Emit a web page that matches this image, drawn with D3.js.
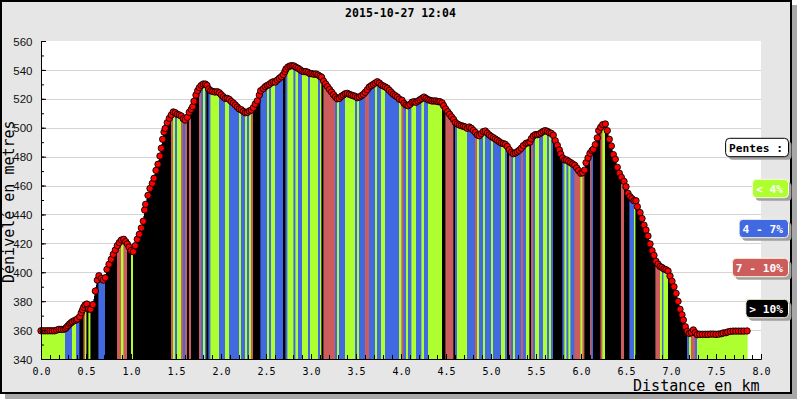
<!DOCTYPE html>
<html><head><meta charset="utf-8">
<script src="https://cdn.jsdelivr.net/npm/d3@7"></script>
<style>
html,body{margin:0;padding:0;background:#fff;}
svg{display:block;}
</style></head>
<body>
<svg id="c" width="800" height="400"></svg>
<script>
const titleText = "2015-10-27 12:04";
const yTitle = "Dénivelé en metres";
const xTitle = "Distance en km";
const legendTitle = "Pentes :";
const legendLabels = ["< 4%", "4 - 7%", "7 - 10%", "> 10%"];
const legendColors = ["#adff2f", "#4169e1", "#cd5c5c", "#000000"];
const legendTextColors = ["#ffffff", "#ffffff", "#ffffff", "#ffffff"];
const slopeLimits = [4, 7, 10];
const xTicks = [0, 0.5, 1, 1.5, 2, 2.5, 3, 3.5, 4, 4.5, 5, 5.5, 6, 6.5, 7, 7.5, 8];
const yTicks = [340, 360, 380, 400, 420, 440, 460, 480, 500, 520, 540, 560];

const distKm = [
0.000,0.025,0.050,0.075,0.100,0.125,0.150,0.175,0.200,0.225,0.250,0.270,0.285,0.300,0.318,0.333,0.348,0.370,0.390,0.404,
0.430,0.448,0.462,0.474,0.490,0.510,0.530,0.552,0.578,0.604,0.626,0.644,0.670,0.692,0.715,0.733,0.756,0.781,0.803,0.826,
0.848,0.870,0.893,0.919,0.941,0.959,0.978,1.000,1.026,1.048,1.070,1.093,1.115,1.137,1.152,1.163,1.189,1.211,1.237,1.256,
1.278,1.300,1.322,1.337,1.352,1.367,1.380,1.403,1.426,1.448,1.470,1.492,1.514,1.537,1.559,1.581,1.603,1.626,1.648,1.670,
1.686,1.700,1.722,1.741,1.759,1.781,1.803,1.826,1.844,1.863,1.886,1.908,1.933,1.959,1.981,2.003,2.026,2.048,2.070,2.092,
2.114,2.137,2.159,2.181,2.203,2.226,2.248,2.270,2.292,2.314,2.337,2.359,2.381,2.403,2.426,2.441,2.470,2.492,2.514,2.537,
2.559,2.581,2.603,2.626,2.648,2.670,2.692,2.710,2.722,2.744,2.767,2.789,2.811,2.833,2.856,2.878,2.900,2.922,2.944,2.967,
2.989,3.011,3.033,3.056,3.078,3.100,3.118,3.140,3.162,3.184,3.206,3.228,3.250,3.272,3.292,3.314,3.337,3.359,3.381,3.403,
3.426,3.448,3.470,3.492,3.514,3.537,3.559,3.581,3.603,3.626,3.648,3.670,3.692,3.714,3.737,3.759,3.781,3.803,3.826,3.848,
3.870,3.892,3.914,3.937,3.959,3.981,4.011,4.033,4.056,4.078,4.100,4.122,4.144,4.167,4.189,4.211,4.233,4.256,4.278,4.300,
4.322,4.344,4.367,4.389,4.411,4.433,4.456,4.474,4.496,4.518,4.540,4.562,4.584,4.604,4.626,4.648,4.670,4.692,4.714,4.737,
4.759,4.781,4.803,4.826,4.848,4.870,4.892,4.914,4.937,4.959,4.981,5.003,5.026,5.048,5.070,5.092,5.114,5.137,5.159,5.181,
5.203,5.226,5.248,5.270,5.292,5.314,5.337,5.359,5.389,5.411,5.433,5.448,5.470,5.492,5.514,5.537,5.559,5.581,5.603,5.626,
5.648,5.670,5.692,5.714,5.737,5.759,5.774,5.797,5.819,5.841,5.863,5.886,5.908,5.930,5.952,5.974,5.997,6.019,6.041,6.056,
6.078,6.100,6.122,6.137,6.159,6.181,6.197,6.219,6.241,6.270,6.292,6.314,6.337,6.359,6.381,6.403,6.426,6.448,6.478,6.500,
6.522,6.544,6.567,6.589,6.611,6.626,6.656,6.678,6.700,6.722,6.744,6.767,6.789,6.811,6.833,6.856,6.878,6.900,6.922,6.944,
6.967,6.989,7.011,7.033,7.056,7.078,7.100,7.122,7.137,7.159,7.181,7.203,7.226,7.248,7.270,7.292,7.320,7.350,7.380,7.410,
7.440,7.470,7.500,7.530,7.560,7.580,7.610,7.630,7.660,7.690,7.720,7.750,7.780,7.810,7.845
];
const elevM = [
359.5,359.5,359.5,359.5,359.5,359.5,359.5,360.0,360.5,360.5,360.5,361.0,362.0,363.0,364.2,365.0,365.8,366.5,367.0,367.7,
369.3,372.0,374.0,375.8,377.4,378.0,374.6,374.4,377.6,387.0,394.6,397.6,395.8,394.6,396.2,402.0,405.5,409.0,412.4,415.4,
418.4,420.5,422.3,422.8,421.2,419.6,417.5,415.0,414.2,418.4,422.8,426.3,430.6,435.3,443.1,447.0,453.2,458.0,461.5,465.0,
470.5,474.7,480.4,485.8,492.0,497.0,499.5,503.5,506.5,508.8,510.9,510.4,509.3,508.8,508.1,506.2,505.3,507.2,510.7,512.7,
514.6,518.3,522.6,525.6,527.7,529.3,530.2,530.2,529.3,526.8,525.6,525.1,524.7,524.9,524.2,522.8,521.4,520.3,520.3,519.6,
518.2,517.1,515.7,514.3,513.0,512.4,511.3,510.4,510.6,511.6,512.2,513.8,516.4,518.6,522.6,525.6,527.0,528.4,529.3,530.0,
531.1,531.8,531.6,533.0,534.2,535.3,536.7,538.8,540.6,542.0,542.7,542.9,542.7,541.8,541.1,540.2,539.2,538.8,538.8,538.3,
537.4,537.4,537.0,537.2,536.5,535.6,534.9,532.2,530.3,528.4,526.5,524.7,522.9,521.2,520.0,520.3,521.7,522.6,523.5,523.8,
523.1,522.6,522.1,521.7,520.8,521.2,522.1,523.1,524.5,526.3,528.2,529.1,530.0,530.9,531.8,530.9,529.6,528.9,528.2,527.3,
525.9,524.5,523.1,522.1,521.2,519.8,519.0,516.9,515.7,515.2,516.2,517.6,518.0,517.6,518.5,519.4,520.3,521.2,520.3,519.4,
519.0,518.5,518.5,518.5,518.0,518.0,517.2,515.2,513.0,511.1,509.3,507.5,505.7,503.6,502.6,501.9,501.4,501.0,500.5,499.6,
500.5,499.6,498.2,496.8,495.0,494.5,495.9,497.3,497.7,496.3,495.0,494.0,493.1,492.2,491.3,490.3,489.4,489.0,488.5,487.1,
484.8,483.0,482.0,482.5,483.4,484.4,485.8,487.6,489.2,489.6,490.1,492.4,494.3,495.2,495.2,495.7,496.6,497.5,498.0,497.5,
496.6,496.1,494.8,491.0,487.8,484.6,481.8,479.1,477.7,477.7,476.7,475.8,474.9,474.0,472.2,470.3,468.5,468.9,470.7,475.8,
479.1,482.3,484.2,485.1,488.3,493.0,498.0,500.3,502.1,502.6,498.0,492.0,487.4,481.4,478.2,472.6,468.5,465.7,462.9,459.2,
454.6,452.3,450.9,449.5,449.5,445.4,441.3,437.2,432.6,429.2,425.1,419.6,414.9,411.7,407.6,405.6,404.0,403.3,402.3,401.8,
400.9,397.4,393.8,390.0,385.4,379.9,374.4,370.6,367.0,362.3,359.1,357.7,358.2,360.1,358.2,356.8,357.0,357.0,357.0,357.0,
357.2,357.2,357.0,357.2,357.5,358.0,358.2,358.7,359.1,359.3,359.3,359.3,359.3,359.3,359.4
];

const svg = d3.select("#c");
const plot = {l: 41, r: 761, t: 41, b: 359};
const x = d3.scaleLinear().domain([0, 8]).range([plot.l, plot.r]);
const y = d3.scaleLinear().domain([340, 560]).range([plot.b, plot.t]);
const mono = "'DejaVu Sans Mono', monospace";

// frame + shadow
svg.append("rect").attr("x", 5).attr("y", 5).attr("width", 792).attr("height", 394).attr("fill", "#a8a8a8");
svg.append("rect").attr("x", 1).attr("y", 1).attr("width", 790).attr("height", 392)
  .attr("fill", "#e6e6e6").attr("stroke", "#000").attr("stroke-width", 2);

// plot bg
svg.append("rect").attr("x", plot.l).attr("y", plot.t).attr("width", plot.r - plot.l).attr("height", plot.b - plot.t).attr("fill", "#fff");

// grid
svg.append("g").selectAll("line").data(yTicks.filter(v => v > 340 && v < 560)).join("line")
  .attr("x1", plot.l).attr("x2", plot.r).attr("y1", d => Math.round(y(d)) + 0.5).attr("y2", d => Math.round(y(d)) + 0.5)
  .attr("stroke", "#d4d4d4").attr("stroke-width", 1);

// slope classes computed from the profile
const pts = distKm.map((d, i) => ({d, e: elevM[i]}));
function slopeClass(a, b) {
  const s = Math.abs(b.e - a.e) / ((b.d - a.d) * 1000) * 100;
  if (s < slopeLimits[0]) return 0;
  if (s < slopeLimits[1]) return 1;
  if (s < slopeLimits[2]) return 2;
  return 3;
}
const segs = d3.pairs(pts).map(([a, b]) => ({a, b, c: slopeClass(a, b)}));
svg.append("g").attr("shape-rendering", "crispEdges").selectAll("path").data(segs).join("path")
  .attr("d", s => `M${x(s.a.d)},${y(340)}L${x(s.a.d)},${y(s.a.e)}L${x(s.b.d)},${y(s.b.e)}L${x(s.b.d)},${y(340)}Z`)
  .attr("fill", s => legendColors[s.c]).attr("stroke", s => legendColors[s.c]).attr("stroke-width", 0.6);

// points
svg.append("g").selectAll("circle").data(pts).join("circle")
  .attr("cx", p => x(p.d)).attr("cy", p => y(p.e)).attr("r", 3.2)
  .attr("fill", "#ff0000").attr("stroke", "#000").attr("stroke-width", 0.9);

// y axis
const yMinor = d3.range(340, 561, 10);
const gy = svg.append("g").attr("transform", `translate(${plot.l},0)`);
gy.call(d3.axisLeft(y).tickValues(yMinor).tickSize(-3).tickSizeOuter(0).tickFormat(""));
const gy2 = svg.append("g").attr("transform", `translate(${plot.l},0)`);
gy2.call(d3.axisLeft(y).tickValues(yTicks).tickSize(-5).tickSizeOuter(0).tickPadding(8.5).tickFormat(d3.format("d")));
[gy, gy2].forEach(g => { g.selectAll("line").attr("stroke", "#000"); g.select(".domain").attr("stroke", "#000"); });
gy2.selectAll("text").attr("font-family", "'Liberation Sans', Arial, sans-serif").attr("font-size", 11.5).attr("fill", "#111").attr("dy", "0.36em");

// x axis
const xMinor = d3.range(0, 81).map(v => v / 10);
const gx = svg.append("g").attr("transform", `translate(0,${plot.b})`);
gx.call(d3.axisBottom(x).tickValues(xMinor).tickSize(-4).tickSizeOuter(0).tickFormat(""));
const gx2 = svg.append("g").attr("transform", `translate(0,${plot.b})`);
gx2.call(d3.axisBottom(x).tickValues(xTicks).tickSize(-5).tickSizeOuter(0).tickPadding(8.9).tickFormat(d3.format(".1f")));
[gx, gx2].forEach(g => { g.selectAll("line").attr("stroke", "#000"); g.select(".domain").attr("stroke", "#000"); });
gx2.selectAll("text").attr("font-family", mono).attr("font-size", 10).attr("fill", "#000");

// titles
svg.append("text").attr("x", 400.5).attr("y", 17.3).attr("text-anchor", "middle")
  .attr("font-family", mono).attr("font-weight", "bold").attr("font-size", 11.5).text(titleText);
svg.append("text").attr("x", 759.5).attr("y", 390.7).attr("text-anchor", "end")
  .attr("font-family", mono).attr("font-size", 15).text(xTitle);
svg.append("text").attr("transform", "translate(13.5,201.7) rotate(-90)").attr("text-anchor", "middle")
  .attr("font-family", mono).attr("font-size", 15).text(yTitle);

// legend
const legRight = 788.5;
const legTops = [138.3, 179.3, 219.3, 258.3, 299.3];
const boxH = 18.4;
function legendBox(top, label, fill, textFill, border) {
  const g = svg.append("g");
  const t = g.append("text").attr("font-family", mono).attr("font-weight", "bold").attr("font-size", 11.2)
    .attr("fill", textFill).attr("text-anchor", "end").attr("x", legRight - 5.5).attr("y", top + 13.2).text(label);
  const w = t.node().getComputedTextLength() + 9;
  g.insert("rect", "text").attr("x", legRight - w + 3).attr("y", top + 3).attr("width", w).attr("height", boxH)
    .attr("rx", 4).attr("fill", "#a0a0a0");
  g.insert("rect", "text").attr("x", legRight - w).attr("y", top).attr("width", w).attr("height", boxH)
    .attr("rx", 4).attr("fill", fill).attr("stroke", border).attr("stroke-width", 1);
}
legendBox(legTops[0], legendTitle, "#ffffff", "#000000", "#000000");
legendLabels.forEach((lab, i) => legendBox(legTops[i + 1], lab, legendColors[i], legendTextColors[i], "#fffbe0"));
</script>
</body></html>
